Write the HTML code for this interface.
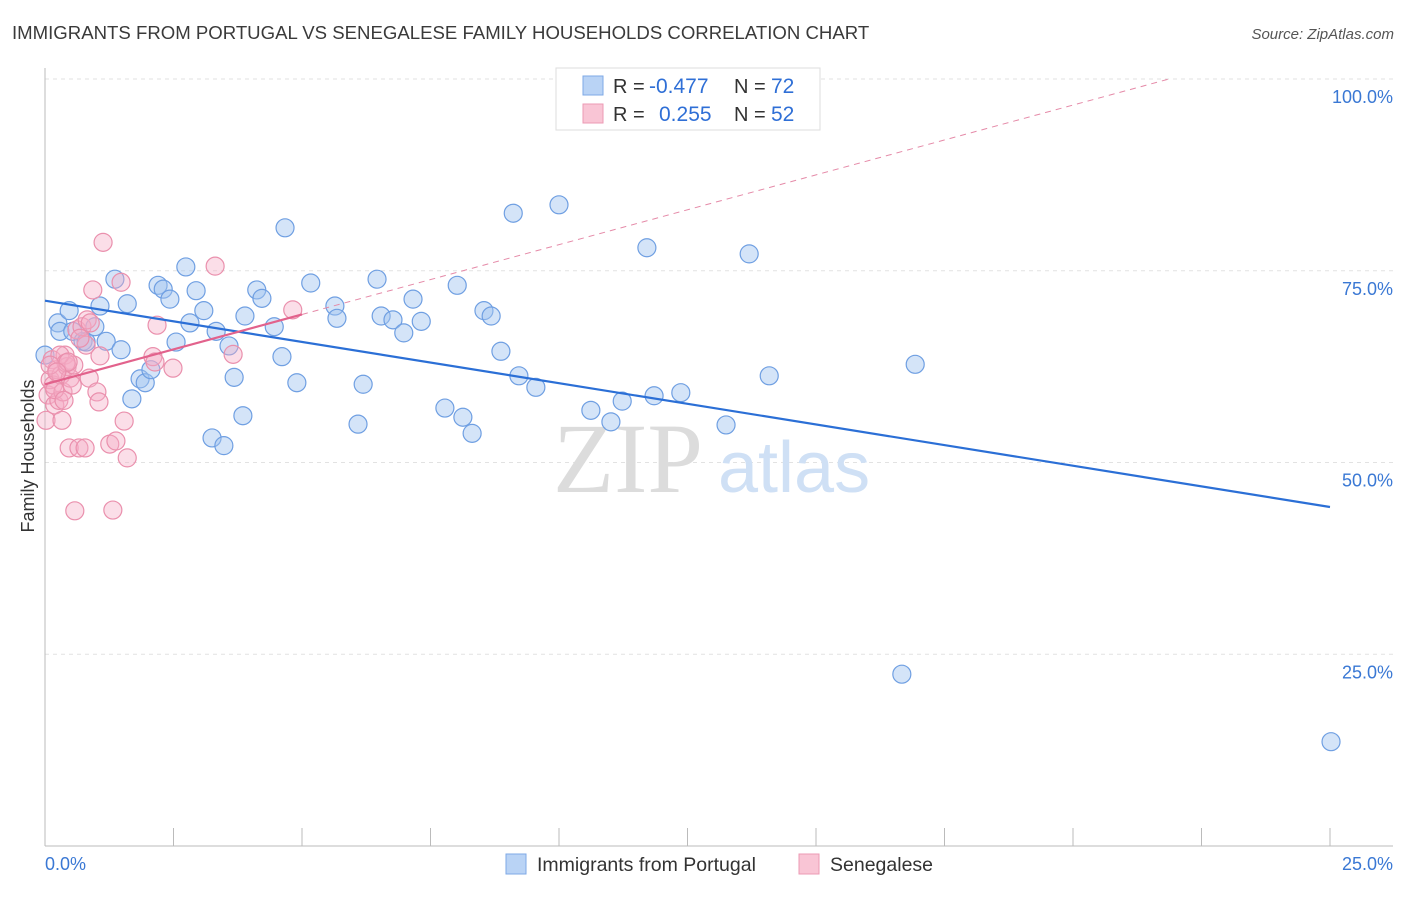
<!DOCTYPE html>
<html><head><meta charset="utf-8"><style>
body{margin:0;background:#fff;font-family:"Liberation Sans",sans-serif;}
</style></head><body>
<svg id="chart" width="1406" height="892" viewBox="0 0 1406 892" font-family="Liberation Sans, sans-serif">
<text x="12" y="39" font-size="18.6" fill="#3a3a3a">IMMIGRANTS FROM PORTUGAL VS SENEGALESE FAMILY HOUSEHOLDS CORRELATION CHART</text>
<text x="1394" y="39" font-size="15" fill="#555" text-anchor="end" font-style="italic">Source: ZipAtlas.com</text>
<text x="34" y="456" font-size="18" fill="#333" text-anchor="middle" transform="rotate(-90 34 456)">Family Households</text>
<g id="grid"></g>
<g>
<text x="553" y="492" font-size="100" style="font-family:'Liberation Serif',serif" fill="#dcdcdc">ZIP</text>
<text x="718" y="492" font-size="72" fill="#cfe0f5">atlas</text>
</g>
<g id="pts"></g>
<g id="lines"></g>
<g>
<rect x="556" y="68" width="264" height="62" fill="#fff" stroke="#ddd"/>
<rect x="583" y="76" width="20" height="19" fill="#b9d3f5" stroke="#7ea8e6"/>
<rect x="583" y="104" width="20" height="19" fill="#f9c5d5" stroke="#ec9ab4"/>
<text x="613" y="93" font-size="20" fill="#333">R = </text><text x="649" y="93" font-size="21" fill="#2f6fd6">-0.477</text>
<text x="734" y="93" font-size="20" fill="#333">N = </text><text x="771" y="93" font-size="21" fill="#2f6fd6">72</text>
<text x="613" y="121" font-size="20" fill="#333">R = </text><text x="659" y="121" font-size="21" fill="#2f6fd6">0.255</text>
<text x="734" y="121" font-size="20" fill="#333">N = </text><text x="771" y="121" font-size="21" fill="#2f6fd6">52</text>
</g>
<g>
<rect x="506" y="854" width="20" height="20" fill="#b9d3f5" stroke="#7ea8e6"/>
<text x="537" y="871" font-size="19.5" fill="#333">Immigrants from Portugal</text>
<rect x="799" y="854" width="20" height="20" fill="#f9c5d5" stroke="#ec9ab4"/>
<text x="830" y="871" font-size="19.5" fill="#333">Senegalese</text>
</g>
</svg>
<script>
const blueX=[0.25,0.29,0.47,0.54,0.74,0.80,0.97,1.07,1.19,1.36,1.48,1.60,1.69,1.85,1.95,2.06,2.20,2.30,2.43,2.55,2.74,2.82,2.94,3.09,3.25,3.33,3.48,3.58,3.68,3.85,3.89,4.12,4.22,4.46,4.61,4.67,4.90,5.17,5.64,5.68,6.09,6.19,6.46,6.54,6.77,6.98,7.16,7.32,7.78,8.02,8.13,8.31,8.54,8.68,8.87,9.11,9.22,9.55,10.0,10.62,11.01,11.23,11.71,11.85,12.37,13.25,13.70,14.09,16.93,16.67,25.02,0];
const blueY=[68.2,67.1,69.8,67.1,65.8,65.7,67.7,70.4,65.8,73.9,64.7,70.7,58.3,60.9,60.4,62.1,73.1,72.6,71.3,65.7,75.5,68.2,72.4,69.8,53.2,67.1,52.2,65.2,61.1,56.1,69.1,72.5,71.4,67.7,63.8,80.6,60.4,73.4,70.4,68.8,55.0,60.2,73.9,69.1,68.6,66.9,71.3,68.4,57.1,73.1,55.9,53.8,69.8,69.1,64.5,82.5,61.3,59.8,83.6,56.8,55.3,58.0,78.0,58.7,59.1,54.9,77.2,61.3,62.8,22.4,13.6,64.0];
const pinkX=[0.02,0.06,0.10,0.14,0.16,0.19,0.23,0.27,0.31,0.35,0.39,0.43,0.47,0.49,0.53,0.56,0.58,0.62,0.66,0.72,0.78,0.80,0.82,0.86,0.93,1.01,1.05,1.13,1.26,1.32,1.38,1.48,1.54,1.60,2.10,2.14,2.18,2.49,3.31,3.66,4.82,0.29,0.41,0.10,0.19,0.37,0.45,0.68,0.88,0.23,0.33,1.07];
const pinkY=[55.5,58.8,60.8,63.4,60.1,57.5,62.1,58.1,61.4,59.2,64.0,62.5,51.9,61.0,60.1,62.7,43.7,67.3,51.9,67.7,51.9,65.3,68.6,61.0,72.5,59.2,57.9,78.7,52.4,43.8,52.8,73.5,55.4,50.6,63.8,63.1,67.9,62.3,75.6,64.1,69.9,64.0,63.0,62.7,59.5,58.1,63.1,66.2,68.2,61.8,55.5,63.9];
const yTicks=[25,50,75,100];
const xTickLabels=["0.0%","25.0%"];
const blueTrend=[71.1,44.2]; // y at x=0 and x=25
const pinkTrend=[60.2,69.3]; // y at x=0 and x=5

const NS="http://www.w3.org/2000/svg";
const X=v=>45+v/25*1285, Y=v=>846-v/100*767;
function mk(tag,attrs,parent){const e=document.createElementNS(NS,tag);for(const k in attrs)e.setAttribute(k,attrs[k]);parent.appendChild(e);return e;}
const grid=document.getElementById('grid');
yTicks.forEach(t=>{
  const l=mk('line',{x1:45,x2:1393,y1:Y(t),y2:Y(t),stroke:'#e2e2e2','stroke-dasharray':'4 4'},grid);
  
  
  const tx=mk('text',{x:1393,y:Y(t)+24,'font-size':18,fill:'#3a78d4','text-anchor':'end'},grid);
  tx.textContent=t.toFixed(1)+'%';
  
  
});
const ax=mk('line',{x1:45,x2:45,y1:68,y2:846,stroke:'#bbb'},grid);


const bx=mk('line',{x1:45,x2:1393,y1:846,y2:846,stroke:'#bbb'},grid);


for(let i=0;i<=10;i++){
  const t=mk('line',{x1:X(i*2.5),x2:X(i*2.5),y1:828,y2:846,stroke:'#bbb'},grid);
  
  
}
[[0,'start',45],[25,'end',1393]].forEach((d,i)=>{
  const tx=mk('text',{x:d[2],y:870,'font-size':18,fill:'#3a78d4','text-anchor':d[1]},grid);
  tx.textContent=xTickLabels[i];
  
  
});
const pts=document.getElementById('pts');
blueX.forEach((v,i)=>{
  const c=mk('circle',{cx:X(v),cy:Y(blueY[i]),r:9,fill:'rgba(160,196,240,0.45)',stroke:'#6f9fe2','stroke-width':1.2},pts);
  
  
});
pinkX.forEach((v,i)=>{
  const c=mk('circle',{cx:X(v),cy:Y(pinkY[i]),r:9,fill:'rgba(246,172,197,0.4)',stroke:'#ea90ad','stroke-width':1.2},pts);
  
  
});
const lines=document.getElementById('lines');
const bl=mk('line',{x1:X(0),y1:Y(blueTrend[0]),x2:X(25),y2:Y(blueTrend[1]),stroke:'#2b6fd6','stroke-width':2.2},lines);


const slope=(pinkTrend[1]-pinkTrend[0])/5;
const xEnd=(100-pinkTrend[0])/slope;
const pd=mk('line',{x1:X(5),y1:Y(pinkTrend[1]),x2:X(xEnd),y2:Y(100),stroke:'#e58aa8','stroke-width':1,'stroke-dasharray':'6 5'},lines);


const pl=mk('line',{x1:X(0),y1:Y(pinkTrend[0]),x2:X(5),y2:Y(pinkTrend[1]),stroke:'#e2628c','stroke-width':2.2},lines);


</script>
</body></html>
